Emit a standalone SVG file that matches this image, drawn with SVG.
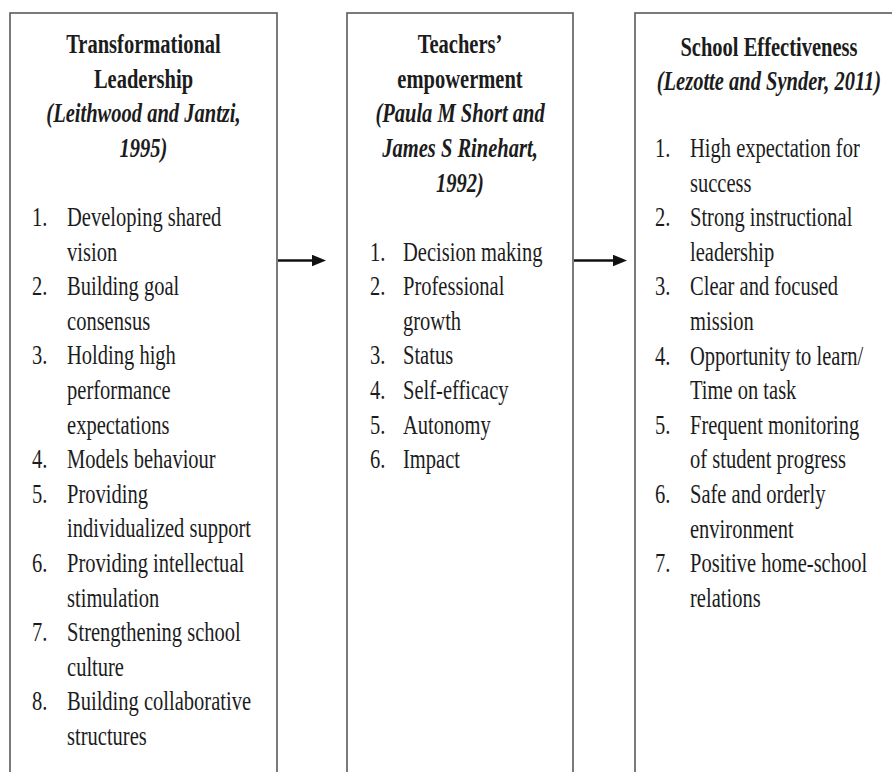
<svg xmlns="http://www.w3.org/2000/svg" width="892" height="772" viewBox="0 0 892 772">
<defs>
<style>
.box{fill:#fff;stroke:#5a5a5a;stroke-width:1.6}
.t{font-size:27px;fill:#1c1c1c}
.h{font-weight:bold;text-anchor:middle}
.c{font-weight:bold;font-style:italic;text-anchor:middle}
.conn{stroke:#111;stroke-width:2.6;fill:none}
</style>
<marker id="ah" markerUnits="userSpaceOnUse" markerWidth="15" markerHeight="12" refX="10" refY="5.75" orient="auto">
<path d="M0,0 L14,5.75 L0,11.5 z" fill="#111"/>
</marker>
</defs>
<rect width="892" height="772" fill="#fff"/>

<g id="node-transformational">
<rect class="box" x="10" y="13" width="267" height="790"/>
<g class="t" font-family="'Liberation Serif', 'DejaVu Serif', serif" transform="scale(0.76 1)">
<text class="h" x="188.8" y="53">Transformational</text>
<text class="h" x="188.8" y="88">Leadership</text>
<text class="c" x="188.8" y="122">(Leithwood and Jantzi,</text>
<text class="c" x="188.8" y="157">1995)</text>
<text x="42.1" y="226">1.</text><text x="88.2" y="226">Developing shared</text>
<text x="88.2" y="260.6">vision</text>
<text x="42.1" y="295.2">2.</text><text x="88.2" y="295.2">Building goal</text>
<text x="88.2" y="329.8">consensus</text>
<text x="42.1" y="364.4">3.</text><text x="88.2" y="364.4">Holding high</text>
<text x="88.2" y="399">performance</text>
<text x="88.2" y="433.6">expectations</text>
<text x="42.1" y="468.2">4.</text><text x="88.2" y="468.2">Models behaviour</text>
<text x="42.1" y="502.8">5.</text><text x="88.2" y="502.8">Providing</text>
<text x="88.2" y="537.4">individualized support</text>
<text x="42.1" y="572">6.</text><text x="88.2" y="572">Providing intellectual</text>
<text x="88.2" y="606.6">stimulation</text>
<text x="42.1" y="641.2">7.</text><text x="88.2" y="641.2">Strengthening school</text>
<text x="88.2" y="675.8">culture</text>
<text x="42.1" y="710.4">8.</text><text x="88.2" y="710.4">Building collaborative</text>
<text x="88.2" y="745">structures</text>
</g>
</g>

<g id="node-empowerment">
<rect class="box" x="347" y="13" width="226" height="790"/>
<g class="t" font-family="'Liberation Serif', 'DejaVu Serif', serif" transform="scale(0.76 1)">
<text class="h" x="605.3" y="53">Teachers’</text>
<text class="h" x="605.3" y="88">empowerment</text>
<text class="c" x="605.3" y="122">(Paula M Short and</text>
<text class="c" x="605.3" y="157">James S Rinehart,</text>
<text class="c" x="605.3" y="192">1992)</text>
<text x="486.8" y="260.6">1.</text><text x="530.3" y="260.6">Decision making</text>
<text x="486.8" y="295.2">2.</text><text x="530.3" y="295.2">Professional</text>
<text x="530.3" y="329.8">growth</text>
<text x="486.8" y="364.4">3.</text><text x="530.3" y="364.4">Status</text>
<text x="486.8" y="399">4.</text><text x="530.3" y="399">Self-efficacy</text>
<text x="486.8" y="433.6">5.</text><text x="530.3" y="433.6">Autonomy</text>
<text x="486.8" y="468.2">6.</text><text x="530.3" y="468.2">Impact</text>
</g>
</g>

<g id="node-effectiveness">
<rect class="box" x="635" y="13" width="280" height="790"/>
<g class="t" font-family="'Liberation Serif', 'DejaVu Serif', serif" transform="scale(0.76 1)">
<text class="h" x="1011.8" y="56">School Effectiveness</text>
<text class="c" x="1011.8" y="90">(Lezotte and Synder, 2011)</text>
<text x="861.8" y="157">1.</text><text x="907.9" y="157">High expectation for</text>
<text x="907.9" y="191.6">success</text>
<text x="861.8" y="226.2">2.</text><text x="907.9" y="226.2">Strong instructional</text>
<text x="907.9" y="260.8">leadership</text>
<text x="861.8" y="295.4">3.</text><text x="907.9" y="295.4">Clear and focused</text>
<text x="907.9" y="330">mission</text>
<text x="861.8" y="364.6">4.</text><text x="907.9" y="364.6">Opportunity to learn/</text>
<text x="907.9" y="399.2">Time on task</text>
<text x="861.8" y="433.8">5.</text><text x="907.9" y="433.8">Frequent monitoring</text>
<text x="907.9" y="468.4">of student progress</text>
<text x="861.8" y="503">6.</text><text x="907.9" y="503">Safe and orderly</text>
<text x="907.9" y="537.6">environment</text>
<text x="861.8" y="572.2">7.</text><text x="907.9" y="572.2">Positive home-school</text>
<text x="907.9" y="606.8">relations</text>
</g>
</g>

<g id="connectors">
<line class="conn" x1="278" y1="260.5" x2="322" y2="260.5" marker-end="url(#ah)"/>
<line class="conn" x1="574" y1="260.5" x2="623" y2="260.5" marker-end="url(#ah)"/>
</g>
</svg>
